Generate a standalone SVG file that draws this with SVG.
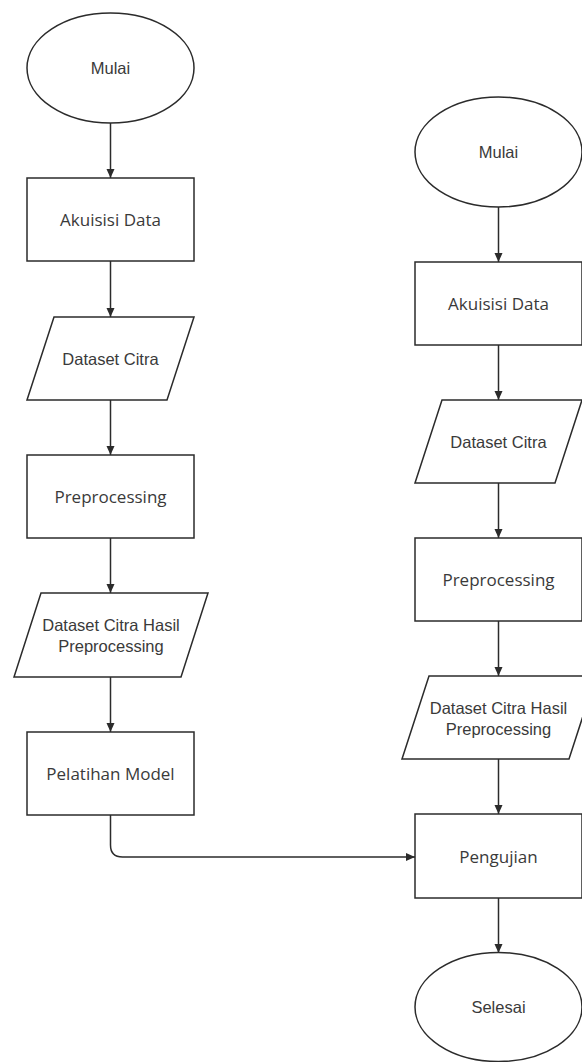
<svg xmlns="http://www.w3.org/2000/svg" width="582" height="1062" viewBox="0 0 582 1062">
<defs>
<style>
.shape{fill:#ffffff;stroke:#2b2b2b;stroke-width:1.5}
.conn{fill:none;stroke:#2b2b2b;stroke-width:1.5}
.ta{font-family:"Liberation Sans",Arial,sans-serif;font-size:16.5px;fill:#3a3a3a;text-anchor:middle;dominant-baseline:central}
.tb{font-family:"Open Sans","Noto Sans",sans-serif;font-size:17px;fill:#3a3a3a;text-anchor:middle;dominant-baseline:central}
</style>
<marker id="arr" markerUnits="userSpaceOnUse" markerWidth="10" markerHeight="10" viewBox="0 0 10 10" refX="9" refY="5" orient="auto">
<path d="M0,1 L9,5 L0,9 z" fill="#2b2b2b"/>
</marker>
</defs>
<rect width="582" height="1062" fill="#ffffff"/>
<g id="connectors">
<line class="conn" x1="110.5" y1="123" x2="110.5" y2="178" marker-end="url(#arr)"/>
<line class="conn" x1="110.5" y1="261" x2="110.5" y2="317" marker-end="url(#arr)"/>
<line class="conn" x1="110.5" y1="400" x2="110.5" y2="455" marker-end="url(#arr)"/>
<line class="conn" x1="110.5" y1="538" x2="110.5" y2="593" marker-end="url(#arr)"/>
<line class="conn" x1="110.5" y1="677" x2="110.5" y2="732" marker-end="url(#arr)"/>
<path class="conn" d="M110.5,815 L110.5,845 Q110.5,857 122.5,857 L415,857" marker-end="url(#arr)"/>
<line class="conn" x1="498.5" y1="207" x2="498.5" y2="262" marker-end="url(#arr)"/>
<line class="conn" x1="498.5" y1="345" x2="498.5" y2="400" marker-end="url(#arr)"/>
<line class="conn" x1="498.5" y1="483" x2="498.5" y2="538" marker-end="url(#arr)"/>
<line class="conn" x1="498.5" y1="621" x2="498.5" y2="676" marker-end="url(#arr)"/>
<line class="conn" x1="498.5" y1="759" x2="498.5" y2="814" marker-end="url(#arr)"/>
<line class="conn" x1="498.5" y1="898" x2="498.5" y2="953" marker-end="url(#arr)"/>
</g>
<g id="mulai-left">
<ellipse class="shape" cx="110.5" cy="68" rx="83.5" ry="55"/>
<text class="ta" x="110.5" y="68">Mulai</text>
</g>
<g id="akuisisi-left">
<rect class="shape" x="27" y="178" width="167" height="83"/>
<text class="tb" x="110.5" y="219.5">Akuisisi Data</text>
</g>
<g id="dataset-left">
<polygon class="shape" points="54,317 194,317 167,400 27,400"/>
<text class="ta" x="110.5" y="358.5">Dataset Citra</text>
</g>
<g id="preprocessing-left">
<rect class="shape" x="27" y="455" width="167" height="83"/>
<text class="tb" x="110.5" y="496.5">Preprocessing</text>
</g>
<g id="hasil-left">
<polygon class="shape" points="41,593 208,593 181,677 14,677"/>
<text class="ta" x="111" y="625">Dataset Citra Hasil</text>
<text class="ta" x="111" y="646">Preprocessing</text>
</g>
<g id="pelatihan">
<rect class="shape" x="27" y="732" width="167" height="83"/>
<text class="tb" x="110.5" y="773.5">Pelatihan Model</text>
</g>
<g id="mulai-right">
<ellipse class="shape" cx="498.5" cy="152" rx="83.5" ry="55"/>
<text class="ta" x="498.5" y="152">Mulai</text>
</g>
<g id="akuisisi-right">
<rect class="shape" x="415" y="262" width="167" height="83"/>
<text class="tb" x="498.5" y="303.5">Akuisisi Data</text>
</g>
<g id="dataset-right">
<polygon class="shape" points="442,400 582,400 555,483 415,483"/>
<text class="ta" x="498.5" y="441.5">Dataset Citra</text>
</g>
<g id="preprocessing-right">
<rect class="shape" x="415" y="538" width="167" height="83"/>
<text class="tb" x="498.5" y="579.5">Preprocessing</text>
</g>
<g id="hasil-right">
<polygon class="shape" points="429,676 596,676 569,759 402,759"/>
<text class="ta" x="498.5" y="707.5">Dataset Citra Hasil</text>
<text class="ta" x="498.5" y="728.5">Preprocessing</text>
</g>
<g id="pengujian">
<rect class="shape" x="415" y="814" width="167" height="84"/>
<text class="tb" x="498.5" y="856">Pengujian</text>
</g>
<g id="selesai">
<ellipse class="shape" cx="498.5" cy="1007" rx="83.5" ry="54.5"/>
<text class="ta" x="498.5" y="1007">Selesai</text>
</g>
</svg>
